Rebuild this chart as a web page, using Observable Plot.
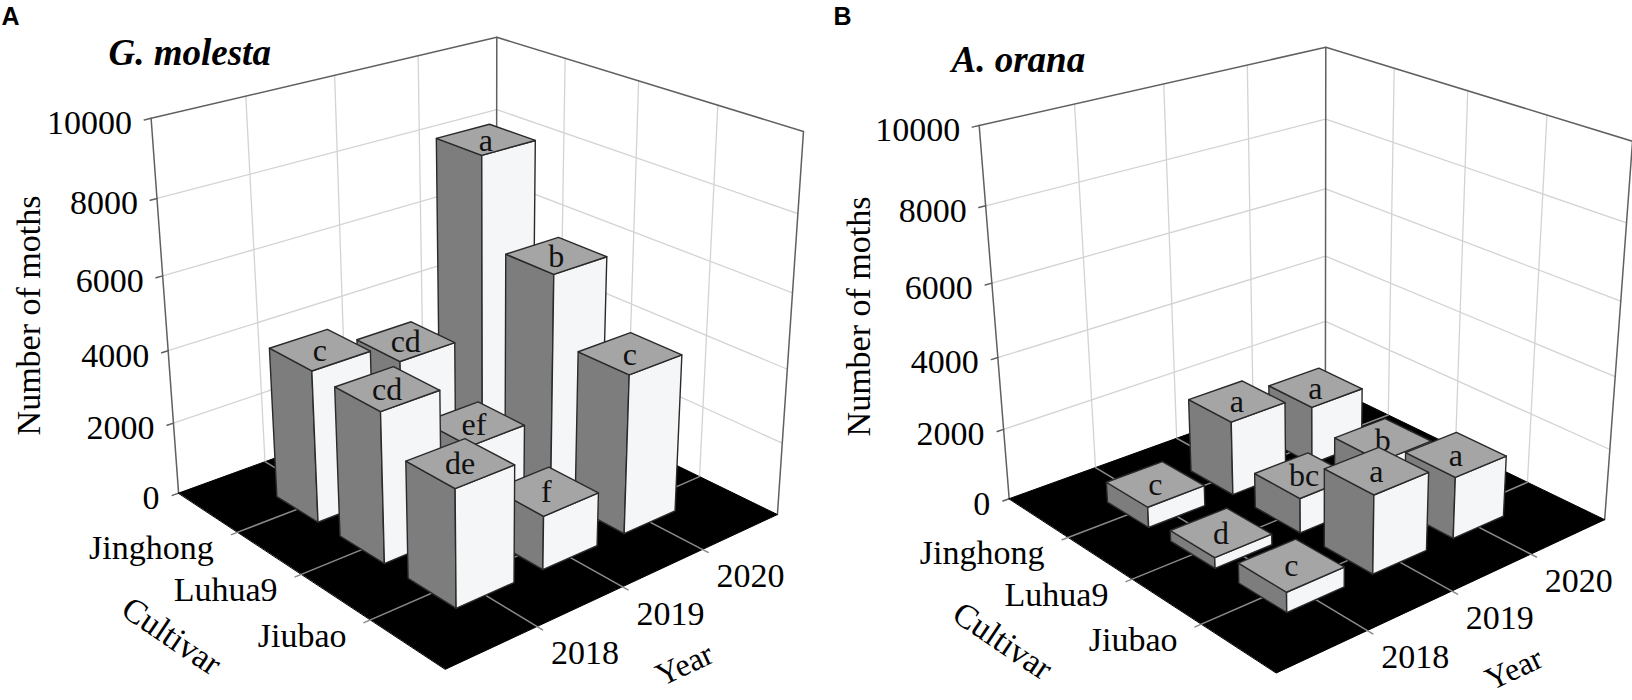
<!DOCTYPE html>
<html><head><meta charset="utf-8">
<script src="https://cdn.jsdelivr.net/npm/d3@7"></script>
<script src="https://cdn.jsdelivr.net/npm/@observablehq/plot@0.6"></script>
<style>
body{margin:0;background:#fff;}
#wrap{display:flex;width:1632px;height:700px;overflow:hidden;}
#wrap svg{flex:none;}
</style></head><body><div id="wrap"></div>
<script>
// ---------------- data ----------------
const years = ["2018", "2019", "2020"];
const cultivars = ["Jinghong", "Luhua9", "Jiubao"];
const zTicks = [0, 2000, 4000, 6000, 8000, 10000];
// rows = cultivar (Jinghong, Luhua9, Jiubao), columns = year (2018, 2019, 2020)
const molestaValues = [
  [4150, 3600, 8400],
  [4050, 2260, 6050],
  [3120, 1450, 4300]
];
const molestaLetters = [
  ["c", "cd", "a"],
  ["cd", "ef", "b"],
  ["de", "f", "c"]
];
const oranaValues = [
  [580, 2100, 1680],
  [300, 980, 1120],
  [550, 2170, 1720]
];
const oranaLetters = [
  ["c", "a", "a"],
  ["d", "bc", "b"],
  ["c", "a", "a"]
];

// ---------------- layout ----------------
const W = 816, H = 700;
const yearPos = [1, 2, 3];      // positions on a 0..4 year axis
const cultPos = [1, 2, 3];      // positions on a 0..4 cultivar axis
const barWidth = 0.66;
const serif = "Liberation Serif, Times New Roman, serif";

// camera calibration: [year, cultivar, z, screenX, screenY] of frame landmarks
const frameA = [
  [0,0,0,178,492],[0,0,10000,150,117],[4,0,10000,496,37],[4,0,0,496,377],
  [0,4,0,442,668],[4,4,0,776,513],[4,4,10000,803,131],
  [0,0,2000,172,422],[0,0,4000,168,350],[0,0,6000,162,276],[0,0,8000,157,198],
  [0,1,0,238,532],[0,2,0,302,577],[0,3,0,370,617],
  [1,4,0,538,626],[2,4,0,623,587],[3,4,0,702,550],
  [1,0,10000,247,95],[2,0,10000,333,76],[3,0,10000,417,56],
  [4,1,10000,565,58],[4,2,10000,638,80],[4,3,10000,718,105],
  [4,0,8000,496,108]
];
const frameB = [
  [0,0,0,192,496],[0,0,10000,163,126],[4,0,10000,509,46],[4,0,0,509,386],
  [0,4,0,457,673],[4,4,0,787,518],[4,4,10000,816,140],
  [0,0,2000,186,427],[0,0,4000,182,357],[0,0,6000,173,283],[0,0,8000,168,207],
  [0,1,0,252,537],[0,2,0,319,578],[0,3,0,386,623],
  [1,4,0,553,633],[2,4,0,634,590],[3,4,0,716,553],
  [1,0,10000,260,104],[2,0,10000,348,83],[3,0,10000,431,64],
  [4,1,10000,578,68],[4,2,10000,652,90],[4,3,10000,729,115],
  [4,0,8000,509,118],[4,0,6000,509,188],[4,0,4000,509,256],[4,0,2000,509,322]
];

// fit a perspective camera (3x4 projective matrix) to the frame landmarks
function fitCamera(anchors) {
  const n = 11;
  const M = Array.from({length: n}, () => new Array(n + 1).fill(0));
  const add = (r, b) => {
    for (let i = 0; i < n; i++) {
      for (let j = 0; j < n; j++) M[i][j] += r[i] * r[j];
      M[i][n] += r[i] * b;
    }
  };
  for (const [X, Y, Zv, u0, v0] of anchors) {
    const Z = Zv / 2500, u = u0 / 100, v = v0 / 100;
    add([X, Y, Z, 1, 0, 0, 0, 0, -u * X, -u * Y, -u * Z], u);
    add([0, 0, 0, 0, X, Y, Z, 1, -v * X, -v * Y, -v * Z], v);
  }
  for (let c = 0; c < n; c++) {
    let piv = c;
    for (let r = c + 1; r < n; r++) if (Math.abs(M[r][c]) > Math.abs(M[piv][c])) piv = r;
    const tmp = M[c]; M[c] = M[piv]; M[piv] = tmp;
    for (let r = 0; r < n; r++) {
      if (r === c) continue;
      const f = M[r][c] / M[c][c];
      for (let k = c; k <= n; k++) M[r][k] -= f * M[c][k];
    }
  }
  const p = M.map((row, i) => row[n] / row[i]);
  return (X, Y, Zv) => {
    const Z = Zv / 2500;
    const w = p[8] * X + p[9] * Y + p[10] * Z + 1;
    return [100 * (p[0] * X + p[1] * Y + p[2] * Z + p[3]) / w,
            100 * (p[4] * X + p[5] * Y + p[6] * Z + p[7]) / w];
  };
}

function panel(cfg) {
  const pr = fitCamera(cfg.frame);
  const pt = (p, extra) => { const [x, y] = pr(p[0], p[1], p[2]); return {x, y, ...extra}; };
  const poly = (pts, opts) => Plot.line(pts.map(p => pt(p)), {x: "x", y: "y", curve: "linear-closed", ...opts});
  const segs = (list, opts) => Plot.line(list.flatMap((s, k) => s.map(p => pt(p, {k}))), {x: "x", y: "y", z: "k", ...opts});
  const marks = [];
  const zMax = zTicks[zTicks.length - 1];

  // walls
  marks.push(poly([[0,0,0],[4,0,0],[4,0,zMax],[0,0,zMax]], {fill: "white", stroke: "none"}));
  marks.push(poly([[4,0,0],[4,4,0],[4,4,zMax],[4,0,zMax]], {fill: "white", stroke: "none"}));
  const grid = [];
  for (const z of zTicks.slice(1, -1)) grid.push([[0,0,z],[4,0,z],[4,4,z]]);
  for (const y of yearPos) grid.push([[y,0,0],[y,0,zMax]]);
  for (const c of cultPos) grid.push([[4,c,0],[4,c,zMax]]);
  marks.push(segs(grid, {stroke: "#d3d3d3", strokeWidth: 1.3}));
  marks.push(segs([[[0,0,0],[0,0,zMax],[4,0,zMax],[4,4,zMax],[4,4,0]], [[4,0,0],[4,0,zMax]]],
    {stroke: "#606060", strokeWidth: 1.5}));
  // z ticks
  marks.push(segs(zTicks.map(z => [[0,0,z],[-0.07,0,z]]), {stroke: "#606060", strokeWidth: 1.5}));
  marks.push(Plot.text(zTicks.map(z => pt([0,0,z], {t: String(z)})), {
    x: "x", y: "y", text: "t", dx: -19, dy: 5, textAnchor: "end", lineAnchor: "middle",
    fontSize: 34, fontFamily: serif, fill: "black"}));

  // floor
  marks.push(poly([[0,0,0],[4,0,0],[4,4,0],[0,4,0]], {fill: "black", stroke: "black", strokeWidth: 1}));
  const fgrid = [];
  for (const c of cultPos) fgrid.push([[-0.07,c,0],[4,c,0]]);
  for (const y of yearPos) fgrid.push([[y,0,0],[y,4.07,0]]);
  marks.push(segs(fgrid, {stroke: "#8a8a8a", strokeWidth: 1.5}));

  // category labels
  marks.push(Plot.text(cultPos.map((c, i) => pt([0,c,0], {t: cultivars[i]})), {
    x: "x", y: "y", text: "t", dx: -24, dy: 16, textAnchor: "end", lineAnchor: "middle",
    fontSize: 34, fontFamily: serif, fill: "black"}));
  marks.push(Plot.text(yearPos.map((y, i) => pt([y,4,0], {t: years[i]})), {
    x: "x", y: "y", text: "t", dx: 14, dy: 27, textAnchor: "start", lineAnchor: "middle",
    fontSize: 34, fontFamily: serif, fill: "black"}));
  marks.push(Plot.text([pt([0,2,0], {t: "Cultivar"})], {
    x: "x", y: "y", text: "t", dx: -130, dy: 62, rotate: 34, textAnchor: "middle", lineAnchor: "middle",
    fontSize: 34, fontFamily: serif, fill: "black"}));
  marks.push(Plot.text([pt([2,4,0], {t: "Year"})], {
    x: "x", y: "y", text: "t", dx: 62, dy: 78, rotate: -25, textAnchor: "middle", lineAnchor: "middle",
    fontSize: 32, fontFamily: serif, fill: "black"}));

  // bars, painted back to front
  const bars = [];
  cultPos.forEach((c, ci) => yearPos.forEach((y, yi) =>
    bars.push({c, y, v: cfg.values[ci][yi], letter: cfg.letters[ci][yi]})));
  bars.sort((a, b) => (b.y - b.c) - (a.y - a.c));
  const h = barWidth / 2;
  for (const b of bars) {
    const y0 = b.y - h, y1 = b.y + h, c0 = b.c - h, c1 = b.c + h, v = b.v;
    const edge = {stroke: "#2a2a2a", strokeWidth: 1.4, strokeLinejoin: "round"};
    marks.push(poly([[y0,c0,0],[y0,c1,0],[y0,c1,v],[y0,c0,v]], {fill: "#7d7d7d", ...edge}));
    marks.push(poly([[y0,c1,0],[y1,c1,0],[y1,c1,v],[y0,c1,v]], {fill: "#f5f6f8", ...edge}));
    marks.push(poly([[y0,c0,v],[y1,c0,v],[y1,c1,v],[y0,c1,v]], {fill: "#a5a5a5", ...edge}));
    marks.push(Plot.text([pt([b.y, b.c, v], {t: b.letter})], {
      x: "x", y: "y", text: "t", textAnchor: "middle", lineAnchor: "middle", dy: 1,
      fontSize: 32, fontFamily: serif, fill: "#111"}));
  }

  // titles
  marks.push(Plot.text([cfg.panel], {frameAnchor: "top-left", dx: cfg.panelX, dy: 16,
    textAnchor: "start", lineAnchor: "middle", fontSize: 25, fontWeight: "bold",
    fontFamily: "Liberation Sans, Arial, sans-serif", fill: "black"}));
  marks.push(Plot.text([cfg.title], {frameAnchor: "top-left", dx: cfg.titleX, dy: cfg.titleY,
    textAnchor: "start", lineAnchor: "middle", fontSize: 37, fontWeight: "bold", fontStyle: "italic",
    fontFamily: serif, fill: "black"}));
  marks.push(Plot.text(["Number of moths"], {frameAnchor: "top-left", dx: cfg.ylabX, dy: cfg.ylabY,
    rotate: -90, textAnchor: "middle", lineAnchor: "middle", fontSize: 34, fontFamily: serif, fill: "black"}));

  return Plot.plot({
    width: W, height: H, margin: 0,
    x: {domain: [0, W], range: [0, W], axis: null},
    y: {domain: [0, H], range: [0, H], axis: null},
    style: {background: "white", overflow: "visible"},
    marks
  });
}

const wrap = document.getElementById("wrap");
wrap.appendChild(panel({frame: frameA, values: molestaValues, letters: molestaLetters,
  panel: "A", panelX: 1, title: "G. molesta", titleX: 108, titleY: 53, ylabX: 29, ylabY: 315}));
wrap.appendChild(panel({frame: frameB, values: oranaValues, letters: oranaLetters,
  panel: "B", panelX: 17, title: "A. orana", titleX: 135, titleY: 60, ylabX: 43, ylabY: 316}));
</script></body></html>
